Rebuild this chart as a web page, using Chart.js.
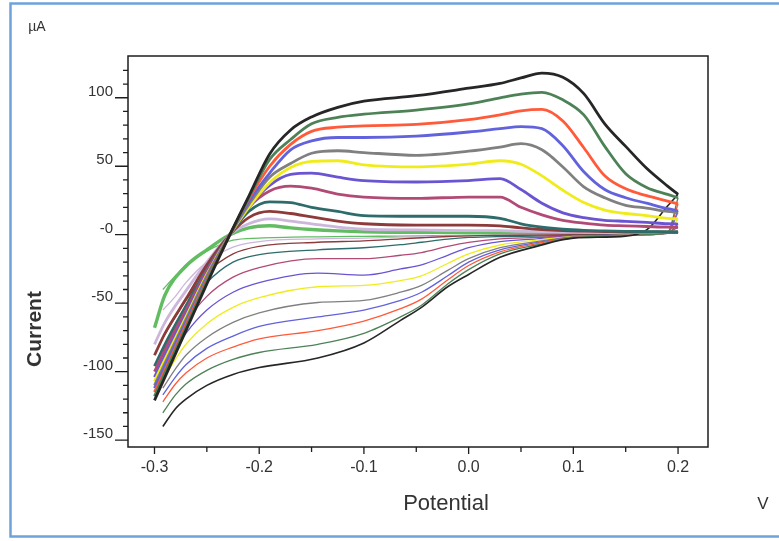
<!DOCTYPE html>
<html>
<head>
<meta charset="utf-8">
<script src="https://cdn.jsdelivr.net/npm/chart.js@4.4.0/dist/chart.umd.min.js"></script>
<style>
  html, body { margin: 0; padding: 0; background: #fff; }
</style>
</head>
<body>
<canvas id="cv" width="779" height="541"></canvas>
<script>
// potentials (V) at which each branch is sampled
const UPPER_V = [-0.3, -0.29, -0.27, -0.25, -0.228, -0.21, -0.19, -0.17, -0.15, -0.125, -0.1, -0.05, 0.0, 0.03, 0.05, 0.07, 0.09, 0.11, 0.13, 0.15, 0.17, 0.19, 0.2];
const LOWER_V = [-0.292, -0.28, -0.27, -0.25, -0.225, -0.2, -0.144, -0.1, -0.065, -0.045, -0.02, 0.0, 0.03, 0.065, 0.1, 0.15, 0.17, 0.19, 0.2];

// anodic (forward) sweeps, µA
const fwd1 = [-121, -104, -70, -36, 0, 28, 59, 76.5, 86, 93, 97.5, 101.5, 107, 110.5, 114.5, 118, 115, 103, 81, 64.5, 48.5, 35.5, 29.5];
const fwd2 = [-118, -101, -68, -34, 0, 27, 55, 69.5, 81, 85.7, 88, 91, 95.5, 100, 102.7, 104, 98.5, 87.5, 64.5, 44.5, 34.5, 29.5, 27];
const fwd3 = [-115, -99, -66, -33, 0, 26, 50, 66, 75.5, 78.5, 79.5, 80.5, 84, 87.5, 90.5, 91.5, 83, 63.5, 43, 33.5, 28.5, 24.5, 22.5];
const fwd4 = [-112, -96, -64, -32, 0, 24, 45, 62, 68.5, 71, 71, 72, 75, 77.5, 79, 77.5, 65, 46, 33, 27, 23, 19, 17.5];
const fwd5 = [-110, -94, -62, -30, 0, 22, 42, 52, 59.5, 61.3, 60, 58, 61, 64, 66.5, 62, 49.5, 35, 27, 21.5, 19.5, 17, 16.3];
const fwd6 = [-107, -91, -60, -29, 0, 20, 38, 49, 53.5, 54, 51, 49.5, 51.5, 54, 51.5, 43, 32.5, 23.5, 18, 15.5, 14, 12, 11.5];
const fwd7 = [-104, -88, -58, -28, 0, 20, 36, 44, 45, 42, 39.5, 38.5, 39.5, 41, 33, 23, 16, 12.5, 10.5, 9.8, 9, 8, 7.8];
const fwd8 = [-100, -84, -55, -26, 0, 20, 32, 35.5, 34, 29.7, 27.5, 26.5, 27.5, 27.5, 20, 14.5, 10.5, 8.5, 7, 6.5, 6, 5.5, 5.4];
const fwd9 = [-96, -80, -52, -25, 0, 17, 24, 23.5, 20, 17, 14, 13.5, 13.5, 12, 8, 5.5, 4, 3.2, 2.8, 2.5, 2.3, 2.1, 2];
const fwd10 = [-88, -72, -47, -22, 0, 12.5, 17, 15.5, 13, 10, 8, 7, 7, 6.5, 5, 3.8, 3, 2.6, 2.3, 2, 1.9, 1.8, 1.8];
const fwd11 = [-80, -64, -41, -20, 0, 8, 11.5, 10, 8, 5.5, 4, 3.5, 3, 3, 2.5, 2.2, 2, 1.8, 1.6, 1.5, 1.5, 1.5, 1.5];
const fwd12 = [-68, -44, -23, -11, 0, 5, 6.5, 5, 3.8, 2.8, 2.2, 1.8, 1.8, 1.8, 1.8, 1.8, 1.8, 1.8, 1.8, 1.8, 1.8, 1.8, 1.8];

// cathodic (reverse) sweeps, µA
const rev1 = [-140, -127, -120, -110, -102, -97, -90, -79, -62.5, -53, -38, -29, -16.5, -8.5, -2.5, -1, 3.5, 21, 29.5];
const rev2 = [-130, -117, -109, -99, -91, -86, -80, -72, -60, -51.5, -36, -25.5, -14, -7.5, -2.2, -0.8, 0, 1.5, 27];
const rev3 = [-122, -109, -101, -90, -82, -76, -70, -63, -54, -47, -33, -22.5, -12.5, -6.5, -2, -0.6, 0, 1.5, 22.5];
const rev4 = [-117, -104, -95, -83, -74, -67, -60, -55, -48, -42, -30, -20, -11, -5.8, -1.8, -0.5, 0, 1.5, 17.5];
const rev5 = [-112, -98, -88, -75, -64, -57, -49.5, -48, -42, -37, -26, -17.5, -9.5, -5, -1.5, -0.5, 0, 1.5, 16.3];
const rev6 = [-106, -91, -80, -65, -53, -46, -38, -37, -33.5, -30, -21, -14, -7.5, -4, -1.3, -0.4, 0, 1.5, 11.5];
const rev7 = [-100, -84, -72, -55, -42, -35, -28, -29.5, -25, -22, -15, -9.5, -5, -3, -1, -0.3, 0, 1.5, 7.8];
const rev8 = [-93, -77, -64, -45, -31, -24, -17.5, -17.5, -15, -13, -8.5, -5.6, -3, -2, -0.8, -0.2, 0, 1.5, 5.4];
const rev9 = [-85, -68, -55, -35, -20, -14.5, -11, -9.5, -7.3, -5.5, -3.2, -2, -1.3, -1, -0.5, 0, 0.3, 1, 2];
const rev10 = [-75, -60, -48, -28, -14, -8.5, -5.5, -4.5, -3, -2.2, -1.3, -0.8, -0.5, -0.3, 0, 0.2, 0.5, 1, 1.8];
const rev11 = [-55, -45, -35, -20, -9, -5, -3, -2.5, -1.8, -1.5, -1, -0.6, -0.4, -0.3, 0, 0.3, 0.5, 1, 1.5];
const rev12 = [-40, -30, -22, -12, -4, -2.5, -1.5, -1.2, -1, -0.8, -0.5, -0.3, -0.2, 0, 0, 0.5, 0.8, 1.2, 1.8];

const X_TICKS = [-0.3, -0.2, -0.1, 0.0, 0.1, 0.2];
const X_MINOR = [-0.25, -0.15, -0.05, 0.05, 0.15];
const Y_TICKS = [-150, -100, -50, 0, 50, 100];
const Y_MINOR = [-140, -130, -120, -110, -90, -80, -70, -60, -40, -30, -20, -10, 10, 20, 30, 40, 60, 70, 80, 90, 110, 120];

const FORWARD = [fwd1, fwd2, fwd3, fwd4, fwd5, fwd6, fwd7, fwd8, fwd9, fwd10, fwd11, fwd12];
const REVERSE = [rev1, rev2, rev3, rev4, rev5, rev6, rev7, rev8, rev9, rev10, rev11, rev12];
const COLORS = ['#262626', '#4d8257', '#ff5a3a', '#6262dc', '#808080', '#f0ec1c',
                '#6a54d2', '#b24a76', '#2e6b6b', '#8c3a3a', '#cdb6dc', '#62bd62'];

const pts = (xs, ys) => xs.map((v, i) => ({ x: v, y: ys[i] }));

const datasets = [];
FORWARD.forEach((ys, i) => datasets.push({
  data: pts(UPPER_V, ys),
  borderColor: COLORS[i],
  borderWidth: i === 11 ? 3.4 : 2.8
}));
REVERSE.forEach((ys, i) => datasets.push({
  data: pts(LOWER_V, ys),
  borderColor: COLORS[i],
  borderWidth: i === 0 ? 1.6 : 1.3
}));

const FONT = "'Liberation Sans', Arial, sans-serif";

// frame, minor/major tick marks and the loose captions
const decor = {
  id: 'decor',
  beforeDraw(chart) {
    const c = chart.ctx;
    c.save();
    c.fillStyle = '#fff';
    c.fillRect(0, 0, chart.width, chart.height);
    c.restore();
  },
  afterDraw(chart) {
    const c = chart.ctx;
    const a = chart.chartArea;
    const xs = chart.scales.x, ys = chart.scales.y;
    c.save();
    c.strokeStyle = '#1e1e1e';
    c.lineWidth = 1.5;
    c.strokeRect(a.left, a.top, a.right - a.left, a.bottom - a.top);

    c.lineWidth = 1.3;
    c.beginPath();
    Y_TICKS.forEach(v => { const y = ys.getPixelForValue(v); c.moveTo(a.left, y); c.lineTo(a.left - 13, y); });
    Y_MINOR.forEach(v => { const y = ys.getPixelForValue(v); c.moveTo(a.left, y); c.lineTo(a.left - 5, y); });
    X_TICKS.forEach(v => { const x = xs.getPixelForValue(v); c.moveTo(x, a.bottom); c.lineTo(x, a.bottom + 7); });
    X_MINOR.forEach(v => { const x = xs.getPixelForValue(v); c.moveTo(x, a.bottom); c.lineTo(x, a.bottom + 5); });
    c.stroke();

    c.fillStyle = '#333';
    c.textAlign = 'center';
    c.textBaseline = 'middle';
    c.font = '14px ' + FONT;
    c.fillText('µA', 37, 27);
    c.font = '22px ' + FONT;
    c.fillText('Potential', 446, 504);
    c.font = '17px ' + FONT;
    c.fillText('V', 763, 504);
    c.translate(35, 329);
    c.rotate(-Math.PI / 2);
    c.font = 'bold 21px ' + FONT;
    c.fillText('Current', 0, 0);
    c.restore();

    c.save();
    c.strokeStyle = '#6fa2da';
    c.lineWidth = 2.5;
    c.strokeRect(10.5, 3.5, 820, 533);
    c.restore();
  }
};

new Chart(document.getElementById('cv'), {
  type: 'line',
  data: { datasets },
  plugins: [decor],
  options: {
    responsive: false,
    animation: false,
    events: [],
    layout: { padding: { left: 0, top: 56, right: 71, bottom: 0 } },
    elements: {
      point: { radius: 0 },
      line: { cubicInterpolationMode: 'monotone', fill: false }
    },
    plugins: { legend: { display: false }, tooltip: { enabled: false } },
    scales: {
      x: {
        type: 'linear',
        min: -0.3253,
        max: 0.2286,
        afterFit(s) { s.height = 94; },
        afterBuildTicks(s) { s.ticks = X_TICKS.map(v => ({ value: v })); },
        grid: { display: false, drawTicks: false },
        border: { display: false },
        ticks: {
          padding: 11,
          color: '#333',
          font: { family: FONT, size: 16 },
          callback: v => v.toFixed(1)
        }
      },
      y: {
        type: 'linear',
        min: -155,
        max: 130.5,
        afterFit(s) { s.width = 128; },
        afterBuildTicks(s) { s.ticks = Y_TICKS.map(v => ({ value: v })); },
        grid: { display: false, drawTicks: false },
        border: { display: false },
        ticks: {
          padding: 15,
          labelOffset: -6,
          color: '#333',
          font: { family: FONT, size: 15 },
          callback: v => (v === 0 ? '-0' : String(v))
        }
      }
    }
  }
});
</script>
</body>
</html>
